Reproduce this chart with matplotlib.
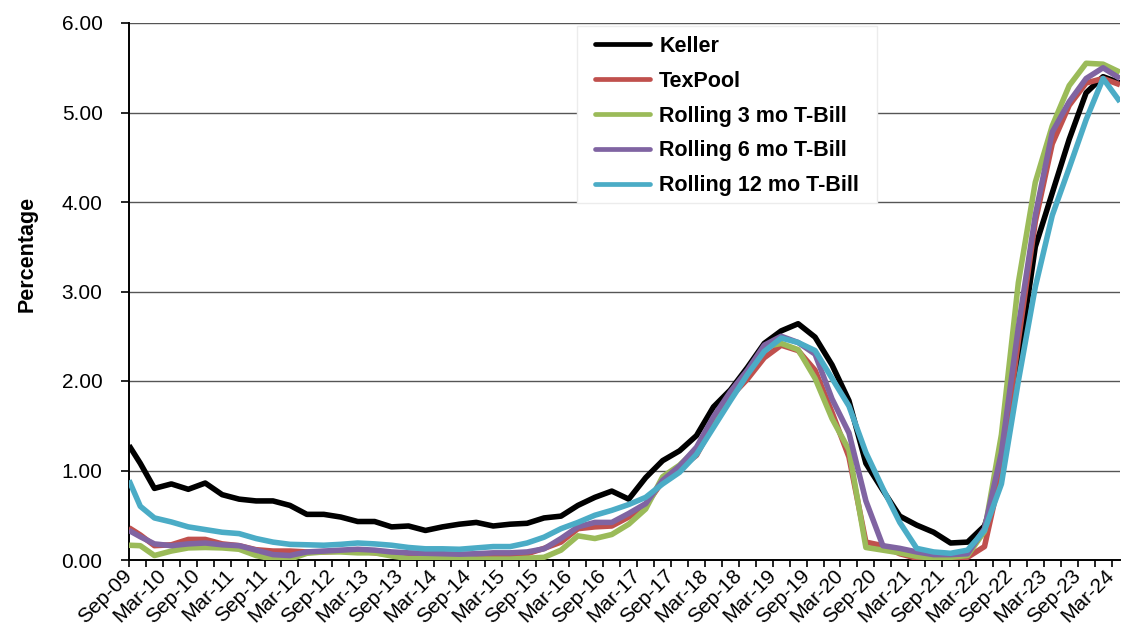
import numpy as np
import matplotlib
matplotlib.use("Agg")
from matplotlib import pyplot as plt
from matplotlib import transforms
from matplotlib.patches import Rectangle

plt.rcParams['font.family'] = ['Liberation Sans', 'DejaVu Sans']

# observation positions, months after Sep-09
obs_month = [0, 2] + [4.5 + 3 * i for i in range(58)]

tick_labels = ['Sep-09', 'Mar-10', 'Sep-10', 'Mar-11', 'Sep-11', 'Mar-12', 'Sep-12', 'Mar-13',
               'Sep-13', 'Mar-14', 'Sep-14', 'Mar-15', 'Sep-15', 'Mar-16', 'Sep-16', 'Mar-17',
               'Sep-17', 'Mar-18', 'Sep-18', 'Mar-19', 'Sep-19', 'Mar-20', 'Sep-20', 'Mar-21',
               'Sep-21', 'Mar-22', 'Sep-22', 'Mar-23', 'Sep-23', 'Mar-24']

keller = [1.28, 1.08, 0.80, 0.85, 0.79, 0.86, 0.73, 0.68, 0.66, 0.66, 0.61, 0.51, 0.51, 0.48, 0.43,
          0.43, 0.37, 0.38, 0.33, 0.37, 0.40, 0.42, 0.38, 0.40, 0.41, 0.47, 0.49, 0.61, 0.70, 0.77,
          0.68, 0.92, 1.11, 1.22, 1.39, 1.71, 1.90, 2.15, 2.42, 2.56, 2.64, 2.49, 2.18, 1.78, 1.08,
          0.78, 0.49, 0.39, 0.31, 0.19, 0.20, 0.38, 0.95, 2.20, 3.50, 4.10, 4.70, 5.22, 5.40, 5.33]
texpool = [0.36, 0.28, 0.16, 0.17, 0.23, 0.23, 0.18, 0.16, 0.115, 0.10, 0.10, 0.09, 0.09, 0.10, 0.10,
           0.08, 0.06, 0.03, 0.02, 0.02, 0.02, 0.02, 0.03, 0.04, 0.07, 0.13, 0.20, 0.35, 0.37, 0.38,
           0.48, 0.61, 0.88, 1.02, 1.17, 1.52, 1.82, 2.02, 2.26, 2.40, 2.34, 2.12, 1.65, 1.15, 0.20,
           0.16, 0.07, 0.02, 0.01, 0.02, 0.03, 0.15, 1.00, 2.45, 3.78, 4.65, 5.08, 5.33, 5.38, 5.31]
tbill_3mo = [0.165, 0.16, 0.05, 0.10, 0.135, 0.14, 0.135, 0.12, 0.05, 0.01, 0.01, 0.075, 0.09, 0.09, 0.08,
             0.08, 0.045, 0.015, 0.015, 0.03, 0.02, 0.01, 0.01, 0.01, 0.02, 0.03, 0.11, 0.27, 0.24, 0.285,
             0.40, 0.57, 0.93, 1.06, 1.24, 1.56, 1.86, 2.10, 2.38, 2.42, 2.35, 2.03, 1.58, 1.23, 0.14,
             0.11, 0.08, 0.04, 0.02, 0.03, 0.05, 0.32, 1.40, 3.10, 4.22, 4.85, 5.30, 5.55, 5.54, 5.45]
tbill_6mo = [0.33, 0.26, 0.18, 0.16, 0.18, 0.19, 0.17, 0.16, 0.11, 0.06, 0.05, 0.09, 0.10, 0.11, 0.12,
             0.11, 0.09, 0.08, 0.075, 0.07, 0.065, 0.07, 0.08, 0.08, 0.09, 0.125, 0.24, 0.37, 0.42, 0.42,
             0.52, 0.63, 0.89, 1.05, 1.26, 1.60, 1.88, 2.12, 2.40, 2.50, 2.43, 2.30, 1.80, 1.42, 0.66,
             0.16, 0.13, 0.09, 0.06, 0.06, 0.07, 0.35, 1.20, 2.60, 3.85, 4.78, 5.12, 5.38, 5.50, 5.38]
tbill_12mo = [0.89, 0.60, 0.47, 0.425, 0.37, 0.34, 0.31, 0.295, 0.24, 0.20, 0.175, 0.17, 0.165, 0.175, 0.19,
              0.18, 0.165, 0.14, 0.125, 0.125, 0.12, 0.135, 0.15, 0.15, 0.19, 0.255, 0.35, 0.42, 0.50, 0.555,
              0.62, 0.70, 0.85, 0.98, 1.18, 1.48, 1.78, 2.07, 2.33, 2.48, 2.43, 2.34, 2.03, 1.72, 1.20,
              0.80, 0.42, 0.13, 0.09, 0.075, 0.11, 0.33, 0.85, 2.00, 3.05, 3.85, 4.38, 4.92, 5.38, 5.12]

series = [
    ('Keller', keller, '#000000'),
    ('TexPool', texpool, '#C0504D'),
    ('Rolling 3 mo T-Bill', tbill_3mo, '#9BBB59'),
    ('Rolling 6 mo T-Bill', tbill_6mo, '#8064A2'),
    ('Rolling 12 mo T-Bill', tbill_12mo, '#4BACC6'),
]

fig = plt.figure(figsize=(11.22, 6.32), dpi=100)
ax = fig.add_axes([129 / 1122, 1 - 560 / 632, 991 / 1122, 537 / 632])

for name, vals, col in series:
    ax.plot(obs_month, vals, color=col, lw=4.0, label=name,
            solid_joinstyle='round', solid_capstyle='butt', zorder=3)

ax.set_xlim(0, 175.5)
ax.set_ylim(0, 6)
ax.set_yticks(np.arange(0, 7, 1))
ax.set_yticklabels(['%.2f' % v for v in np.arange(0, 7, 1)], fontsize=15)
ax.set_xticks(np.arange(0, 175, 6))
ax.set_xticks(np.arange(0, 175, 3), minor=True)
ax.set_xticklabels(tick_labels, fontsize=15, rotation=45, ha='right',
                   va='center', rotation_mode='anchor')
# nudge the slanted labels so their ends sit just right of the ticks
shift = transforms.ScaledTranslation(8 / 100, -5 / 100, fig.dpi_scale_trans)
for lab in ax.get_xticklabels():
    lab.set_transform(lab.get_transform() + shift)

ax.grid(axis='y', color='#555555', lw=1.0, zorder=0)
ax.set_axisbelow(True)
for s in ['top', 'right']:
    ax.spines[s].set_visible(False)
for s in ['left', 'bottom']:
    ax.spines[s].set_color('black')
    ax.spines[s].set_linewidth(1.4)
ax.tick_params(axis='y', direction='out', length=6, width=1.2, pad=13)
ax.tick_params(axis='x', which='both', direction='out', length=5, width=1.2, pad=4)

ax.set_ylabel('Percentage', fontsize=15.5, fontweight='bold')
ax.yaxis.set_label_coords(-0.092, 0.57)

# white legend panel behind the entries
ax.add_artist(Rectangle(((577 - 129) / 991, (560 - 203) / 537), 300 / 991, 177 / 537,
                        transform=ax.transAxes, facecolor='white', edgecolor='#ececec',
                        lw=1, zorder=4, clip_on=False))

leg = ax.legend(loc='upper left', bbox_to_anchor=((595 - 129) / 991, (560 - 36) / 537),
                frameon=False, prop={'size': 15.5, 'weight': 'bold'}, handlelength=2.56,
                handletextpad=0.42, labelspacing=0.64, borderpad=0, borderaxespad=0)
leg.set_zorder(5)
for h in leg.get_lines():
    h.set_linewidth(3.4)
    h.set_solid_capstyle('round')

fig.savefig('out.png', dpi=100)
